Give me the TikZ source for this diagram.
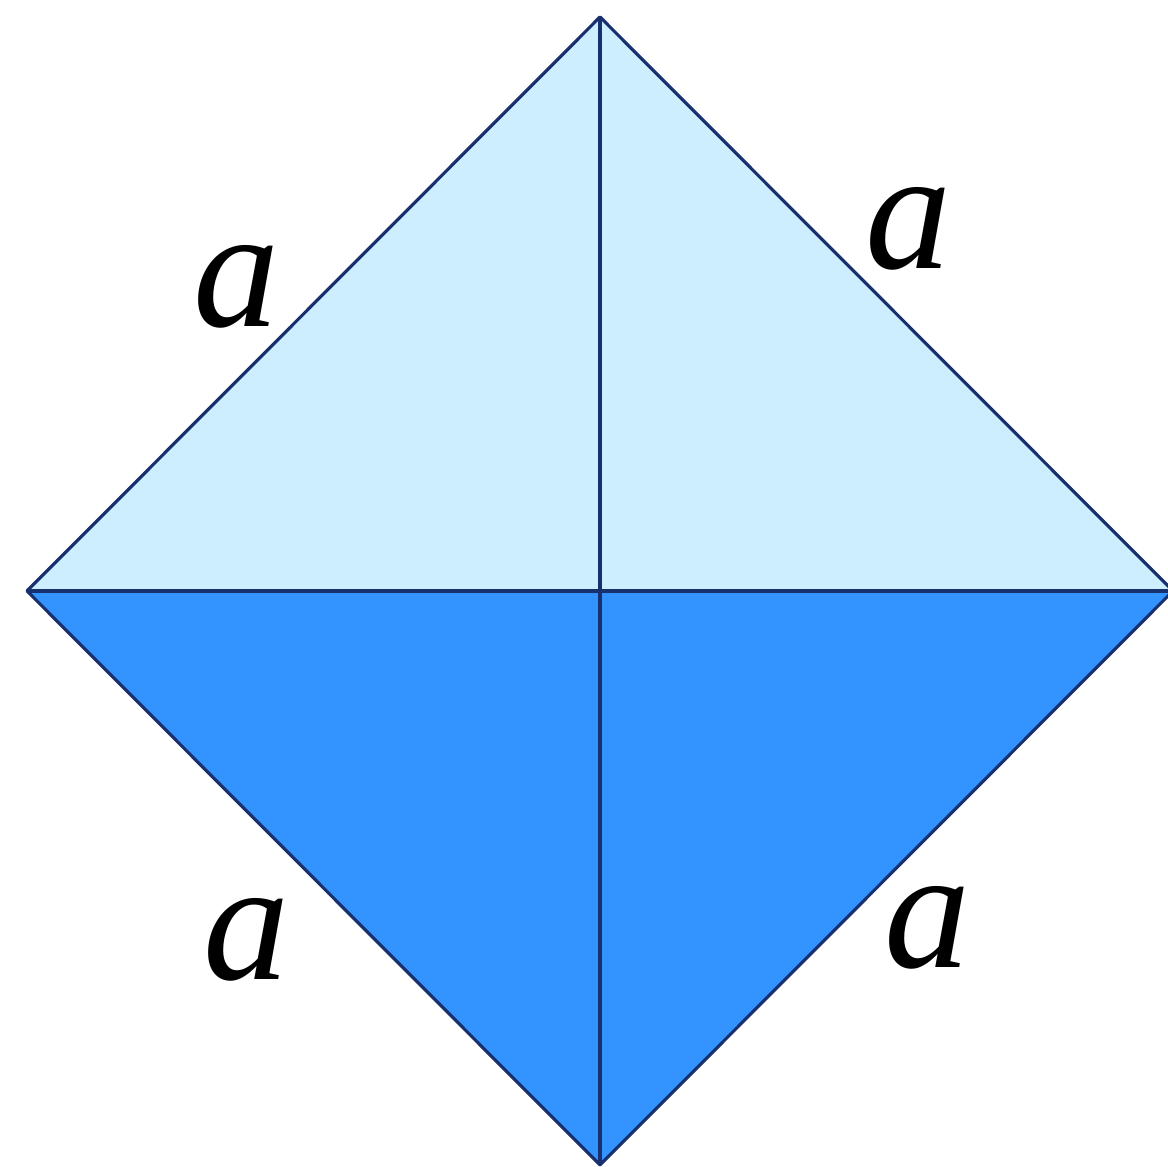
\documentclass[tikz,border=0pt]{standalone}
\usepackage{fontspec}
\setmainfont{Liberation Serif}
\usepackage{tikz}
\usetikzlibrary{positioning,calc}
\definecolor{paleblue}{RGB}{204,238,255}
\definecolor{deepblue}{RGB}{51,148,255}
\definecolor{edgenavy}{RGB}{24,48,110}

\begin{document}
\begin{tikzpicture}[
  face/.style={draw=edgenavy, line width=0.9pt, line join=round},
  split/.style={draw=edgenavy, line width=1.2pt},
  side/.style={font=\fontsize{49}{49}\selectfont\itshape, inner sep=0pt}
]
\useasboundingbox (0,0) rectangle (11.68,11.67);
\coordinate (top) at (6.00,11.50);
\coordinate (left) at (0.27,5.76);
\coordinate (right) at (11.73,5.76);
\coordinate (bottom) at (6.00,0.02);
\coordinate (mid) at (6.00,5.76);

\fill[paleblue] (left) -- (top) -- (right) -- cycle;
\fill[deepblue] (left) -- (bottom) -- (right) -- cycle;
\draw[face] (left) -- (top) -- (right) -- (bottom) -- cycle;
\draw[split] (top) -- (bottom);
\draw[split] (left) -- (right);

\node[side] (ltop) at (2.37,8.80) {a};
\node[side] (rtop) at (9.09,9.38) {a};
\node[side] (lbot) at (2.47,2.27) {a};
\node[side] (rbot) at (9.28,2.39) {a};
\end{tikzpicture}
\end{document}
